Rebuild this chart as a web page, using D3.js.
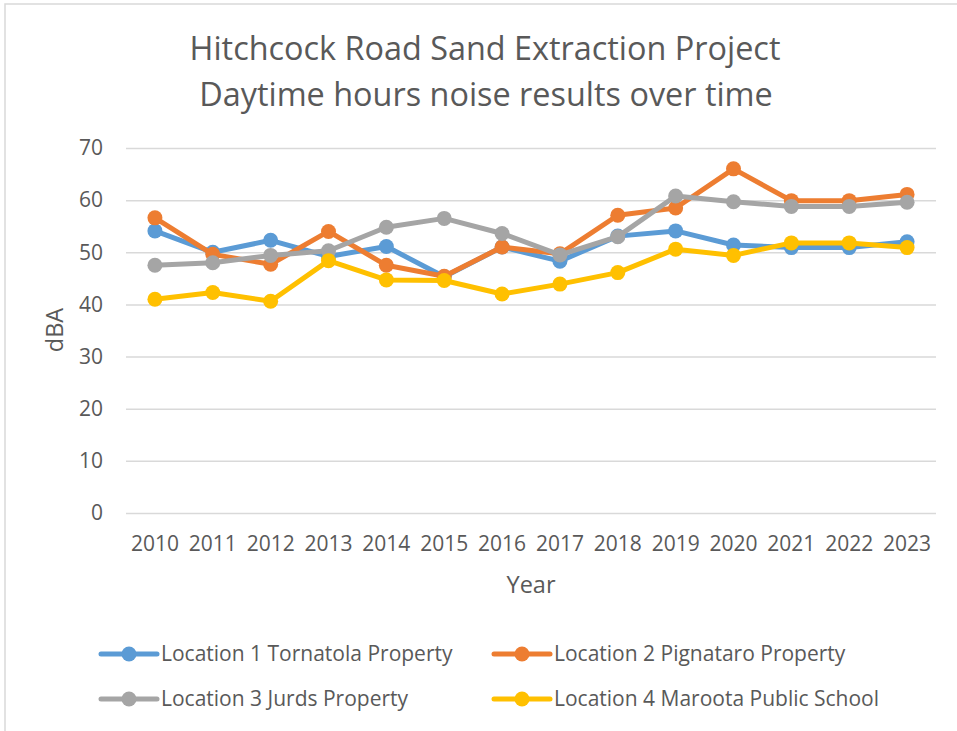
<!DOCTYPE html>
<html>
<head>
<meta charset="utf-8">
<script src="https://cdn.jsdelivr.net/npm/d3@7"></script>
<style>
  html, body { margin: 0; padding: 0; background: #fff; }
  #svg-container { width: 957px; height: 731px; }
  text { font-family: "Open Sans", "Noto Sans", sans-serif; fill: #595959; }
</style>
</head>
<body>
<div id="svg-container"></div>
<script>
// data
const years = ["2010", "2011", "2012", "2013", "2014", "2015", "2016", "2017", "2018", "2019", "2020", "2021", "2022", "2023"];
const seriesNames = [
  "Location 1 Tornatola Property",
  "Location 2 Pignataro Property",
  "Location 3 Jurds Property",
  "Location 4 Maroota Public School"
];
const location1 = [54.1, 50.0, 52.3, 49.2, 51.1, 45.3, 51.0, 48.3, 53.1, 54.1, 51.4, 50.9, 50.9, 52.0];
const location2 = [56.6, 49.6, 47.7, 54.0, 47.5, 45.4, 51.0, 49.7, 57.1, 58.5, 66.0, 59.9, 59.9, 61.1];
const location3 = [47.5, 48.0, 49.4, 50.3, 54.8, 56.5, 53.6, 49.5, 53.0, 60.8, 59.7, 58.8, 58.8, 59.6];
const location4 = [41.0, 42.3, 40.6, 48.4, 44.7, 44.6, 42.0, 43.9, 46.1, 50.6, 49.4, 51.8, 51.8, 50.9];
const yTicks = [0, 10, 20, 30, 40, 50, 60, 70];
const colors = ["#5B9BD5", "#ED7D31", "#A5A5A5", "#FFC000"];

const series = seriesNames.map((name, i) => ({
  name: name,
  values: [location1, location2, location3, location4][i],
  color: colors[i]
}));

// svg
const width = 957;
const height = 731;
const margin = { top: 148, right: 21, bottom: 218, left: 126 };

const svg = d3.select("#svg-container").append("svg")
  .attr("width", width)
  .attr("height", height);

// chart border (only top + left visible in crop)
svg.append("path")
  .attr("d", `M5,${height} V4 H${width}`)
  .attr("fill", "none")
  .attr("stroke", "#d9d9d9")
  .attr("stroke-width", 1.5);

// scale
const xScale = d3.scaleBand()
  .domain(years)
  .range([margin.left, width - margin.right]);
const yScale = d3.scaleLinear()
  .domain([0, 70])
  .range([height - margin.bottom, margin.top]);

// title
const title = svg.append("text")
  .attr("x", 485)
  .attr("text-anchor", "middle")
  .style("font-size", "32.4px");
title.append("tspan").attr("x", 485).attr("y", 60).text("Hitchcock Road Sand Extraction Project");
title.append("tspan").attr("x", 486).attr("y", 106).text("Daytime hours noise results over time");

// grid + y axis
const yAxis = d3.axisLeft(yScale)
  .tickValues(yTicks)
  .tickSize(-(width - margin.left - margin.right))
  .tickPadding(23);

svg.append("g")
  .attr("class", "y-axis")
  .attr("transform", `translate(${margin.left},0)`)
  .call(yAxis)
  .call((g) => g.select(".domain").remove())
  .call((g) => g.selectAll(".tick line").attr("stroke", "#d9d9d9").attr("stroke-width", 1.5))
  .call((g) => g.selectAll(".tick text").style("font-size", "21px").attr("fill", "#595959"));

// x axis
const xAxis = d3.axisBottom(xScale).tickSize(0).tickPadding(23);
svg.append("g")
  .attr("class", "x-axis")
  .attr("transform", `translate(0,${height - margin.bottom})`)
  .call(xAxis)
  .call((g) => g.select(".domain").remove())
  .call((g) => g.selectAll(".tick text").style("font-size", "21px").attr("fill", "#595959"));

// units
svg.append("text")
  .attr("x", (margin.left + width - margin.right) / 2)
  .attr("y", 593)
  .attr("text-anchor", "middle")
  .style("font-size", "23.5px")
  .text("Year");

svg.append("text")
  .attr("transform", "translate(63,330) rotate(-90)")
  .attr("text-anchor", "middle")
  .style("font-size", "23.5px")
  .text("dBA");

// lines
const line = d3.line()
  .x((d, i) => xScale(years[i]) + xScale.bandwidth() / 2)
  .y((d) => yScale(d));

const seriesG = svg.selectAll(".series")
  .data(series)
  .enter()
  .append("g")
  .attr("class", "series");

seriesG.append("path")
  .attr("d", (d) => line(d.values))
  .attr("fill", "none")
  .attr("stroke", (d) => d.color)
  .attr("stroke-width", 5)
  .attr("stroke-linejoin", "round")
  .attr("stroke-linecap", "round");

seriesG.selectAll("circle")
  .data((d) => d.values.map((v, i) => ({ v: v, i: i, color: d.color })))
  .enter()
  .append("circle")
  .attr("cx", (d) => xScale(years[d.i]) + xScale.bandwidth() / 2)
  .attr("cy", (d) => yScale(d.v))
  .attr("r", 7.5)
  .attr("fill", (d) => d.color);

// legend
const legendPos = [[101, 654], [494, 654], [101, 699], [494, 699]];
const legend = svg.selectAll(".legend")
  .data(series)
  .enter()
  .append("g")
  .attr("class", "legend")
  .attr("transform", (d, i) => `translate(${legendPos[i][0]},${legendPos[i][1]})`);

legend.append("line")
  .attr("x1", 0).attr("x2", 56)
  .attr("stroke", (d) => d.color)
  .attr("stroke-width", 5)
  .attr("stroke-linecap", "round");

legend.append("circle")
  .attr("cx", 28)
  .attr("r", 7.5)
  .attr("fill", (d) => d.color);

legend.append("text")
  .attr("x", 60)
  .attr("dy", "0.35em")
  .style("font-size", "21px")
  .text((d) => d.name);
</script>
</body>
</html>
